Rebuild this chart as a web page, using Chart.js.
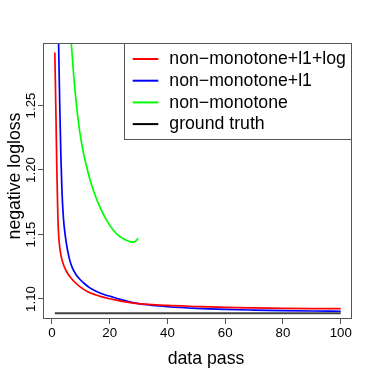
<!DOCTYPE html>
<html lang="en">
<head>
    <meta charset="UTF-8">
    <title>negative logloss vs data pass</title>
    <script src="https://cdn.jsdelivr.net/npm/chart.js"></script>
    <style>
        html, body { margin: 0; padding: 0; background: #fff; }
        #wrap { width: 374px; height: 374px; }
    </style>
</head>
<body>
    <div id="wrap"><canvas id="lossChart" width="374" height="374"></canvas></div>

    <script>
        // series labels (legend order)
        const seriesLabels = ['non−monotone+l1+log', 'non−monotone+l1', 'non−monotone', 'ground truth'];
        const seriesColors = ['#ff0000', '#0000ff', '#00ff00', '#404040'];

        // non-monotone+l1+log
        const passRed = [1, 1.4, 1.7, 2, 2.3, 2.7, 3.2, 4, 5, 6.5, 8.3, 10, 12.4, 15, 17, 20, 22.2, 25, 28.2, 32, 36, 40, 50, 60, 70, 80, 90, 100];
        const lossRed = [1.291, 1.24, 1.20, 1.168, 1.150, 1.140, 1.133, 1.1265, 1.1215, 1.1165, 1.1122, 1.1090, 1.1057, 1.1033, 1.1018, 1.1002, 1.0992, 1.0980, 1.0968, 1.0960, 1.0955, 1.0950, 1.0942, 1.0935, 1.0931, 1.0928, 1.0926, 1.0925];

        // non-monotone+l1
        const passBlue = [1, 1.5, 2, 2.3, 2.7, 3.1, 3.5, 4, 4.5, 5, 6, 7, 8.3, 10, 11.2, 13, 15.8, 18, 20.5, 24, 28, 32, 36, 40, 50, 60, 70, 80, 90, 100];
        const lossBlue = [1.55, 1.42, 1.335, 1.298, 1.25, 1.210, 1.182, 1.162, 1.151, 1.143, 1.1315, 1.1245, 1.119, 1.1145, 1.112, 1.1088, 1.1055, 1.1035, 1.1018, 1.0995, 1.0972, 1.0958, 1.0948, 1.0940, 1.0927, 1.0919, 1.0914, 1.0910, 1.0907, 1.0905];

        // non-monotone
        const passGreen = [1, 3, 5, 6, 6.7, 7.5, 8.5, 9.5, 10.7, 12, 13.1, 14.7, 16.5, 18.8, 21.2, 23.5, 25.8, 27, 28.1, 29, 29.8];
        const lossGreen = [1.70, 1.48, 1.36, 1.322, 1.298, 1.274, 1.250, 1.2315, 1.2156, 1.2025, 1.1930, 1.1820, 1.1718, 1.1615, 1.1535, 1.1483, 1.1455, 1.1445, 1.1440, 1.1448, 1.1471];

        // ground truth
        const passTruth = [1, 100];
        const lossTruth = [1.0889, 1.0889];

        // axis ticks
        const xTicks = [0, 20, 40, 60, 80, 100];
        const yTicks = [1.10, 1.15, 1.20, 1.25];

        const FONT = '"Liberation Sans", Arial, Helvetica, sans-serif';
        const FRAME = '#555555';

        function pts(xs, ys) {
            return xs.map((v, i) => ({ x: v, y: ys[i] }));
        }

        const allSeries = [
            pts(passRed, lossRed),
            pts(passBlue, lossBlue),
            pts(passGreen, lossGreen),
            pts(passTruth, lossTruth)
        ];

        // frame, y tick labels, titles and legend drawn like R's base graphics
        const rStyle = {
            id: 'rStyle',
            afterDraw(chart) {
                const ctx = chart.ctx;
                const a = chart.chartArea;
                const ys = chart.scales.y;

                ctx.save();
                ctx.strokeStyle = FRAME;
                ctx.lineWidth = 1;
                ctx.strokeRect(a.left + 0.5, a.top + 0.5, a.right - a.left - 1, a.bottom - a.top - 1);

                // y tick labels, rotated
                ctx.fillStyle = '#000';
                ctx.font = '13.3px ' + FONT;
                ctx.textAlign = 'center';
                ctx.textBaseline = 'middle';
                yTicks.forEach(v => {
                    ctx.save();
                    ctx.translate(31.5, ys.getPixelForValue(v));
                    ctx.rotate(-Math.PI / 2);
                    ctx.fillText(v.toFixed(2), 0, 0);
                    ctx.restore();
                });

                // axis titles
                ctx.font = '17.7px ' + FONT;
                ctx.textBaseline = 'alphabetic';
                ctx.fillText('data pass', 206, 363.5);
                ctx.save();
                ctx.translate(20, 176);
                ctx.rotate(-Math.PI / 2);
                ctx.fillText('negative logloss', 0, 0);
                ctx.restore();

                // legend box
                const lx = 124, ly = a.top, lw = a.right - 124, lh = 140 - a.top;
                ctx.fillStyle = '#fff';
                ctx.fillRect(lx, ly, lw, lh);
                ctx.strokeStyle = FRAME;
                ctx.strokeRect(lx + 0.5, ly + 0.5, lw - 1, lh - 1);
                ctx.textAlign = 'left';
                ctx.textBaseline = 'middle';
                chart.data.datasets.forEach((ds, i) => {
                    const cy = 59 + i * 21.7;
                    ctx.strokeStyle = ds.label === 'ground truth' ? '#000' : ds.borderColor;
                    ctx.lineWidth = 2;
                    ctx.beginPath();
                    ctx.moveTo(132.7, cy);
                    ctx.lineTo(158.3, cy);
                    ctx.stroke();
                    ctx.fillStyle = '#000';
                    ctx.fillText(ds.label, 169.3, cy + 0.5);
                });
                ctx.restore();
            }
        };

        const ctx = document.getElementById('lossChart').getContext('2d');
        new Chart(ctx, {
            type: 'line',
            data: {
                datasets: allSeries.map((d, i) => ({
                    label: seriesLabels[i],
                    data: d,
                    borderColor: seriesColors[i],
                    backgroundColor: seriesColors[i],
                    borderWidth: i === 3 ? 2 : 1.7,
                    pointRadius: 0,
                    fill: false,
                    cubicInterpolationMode: 'monotone',
                    clip: 0
                }))
            },
            options: {
                responsive: false,
                animation: false,
                devicePixelRatio: 1,
                layout: { padding: { left: 0, right: 22, top: 43, bottom: 0 } },
                plugins: {
                    legend: { display: false },
                    tooltip: { enabled: false }
                },
                scales: {
                    x: {
                        type: 'linear',
                        min: -3.1,
                        max: 103.9,
                        afterBuildTicks: s => { s.ticks = xTicks.map(v => ({ value: v })); },
                        afterFit: s => { s.height = 55; },
                        grid: { drawOnChartArea: false, drawTicks: true, tickLength: 5, tickColor: FRAME },
                        border: { display: false },
                        ticks: {
                            font: { family: FONT, size: 13.3 },
                            color: '#000',
                            padding: 1.5,
                            maxRotation: 0,
                            callback: v => String(v)
                        }
                    },
                    y: {
                        type: 'linear',
                        min: 1.0845,
                        max: 1.2984,
                        afterBuildTicks: s => { s.ticks = yTicks.map(v => ({ value: v })); },
                        afterFit: s => { s.width = 43; },
                        grid: { drawOnChartArea: false, drawTicks: true, tickLength: 5, tickColor: FRAME },
                        border: { display: false },
                        ticks: { display: false }
                    }
                }
            },
            plugins: [rStyle]
        });
    </script>
</body>
</html>
